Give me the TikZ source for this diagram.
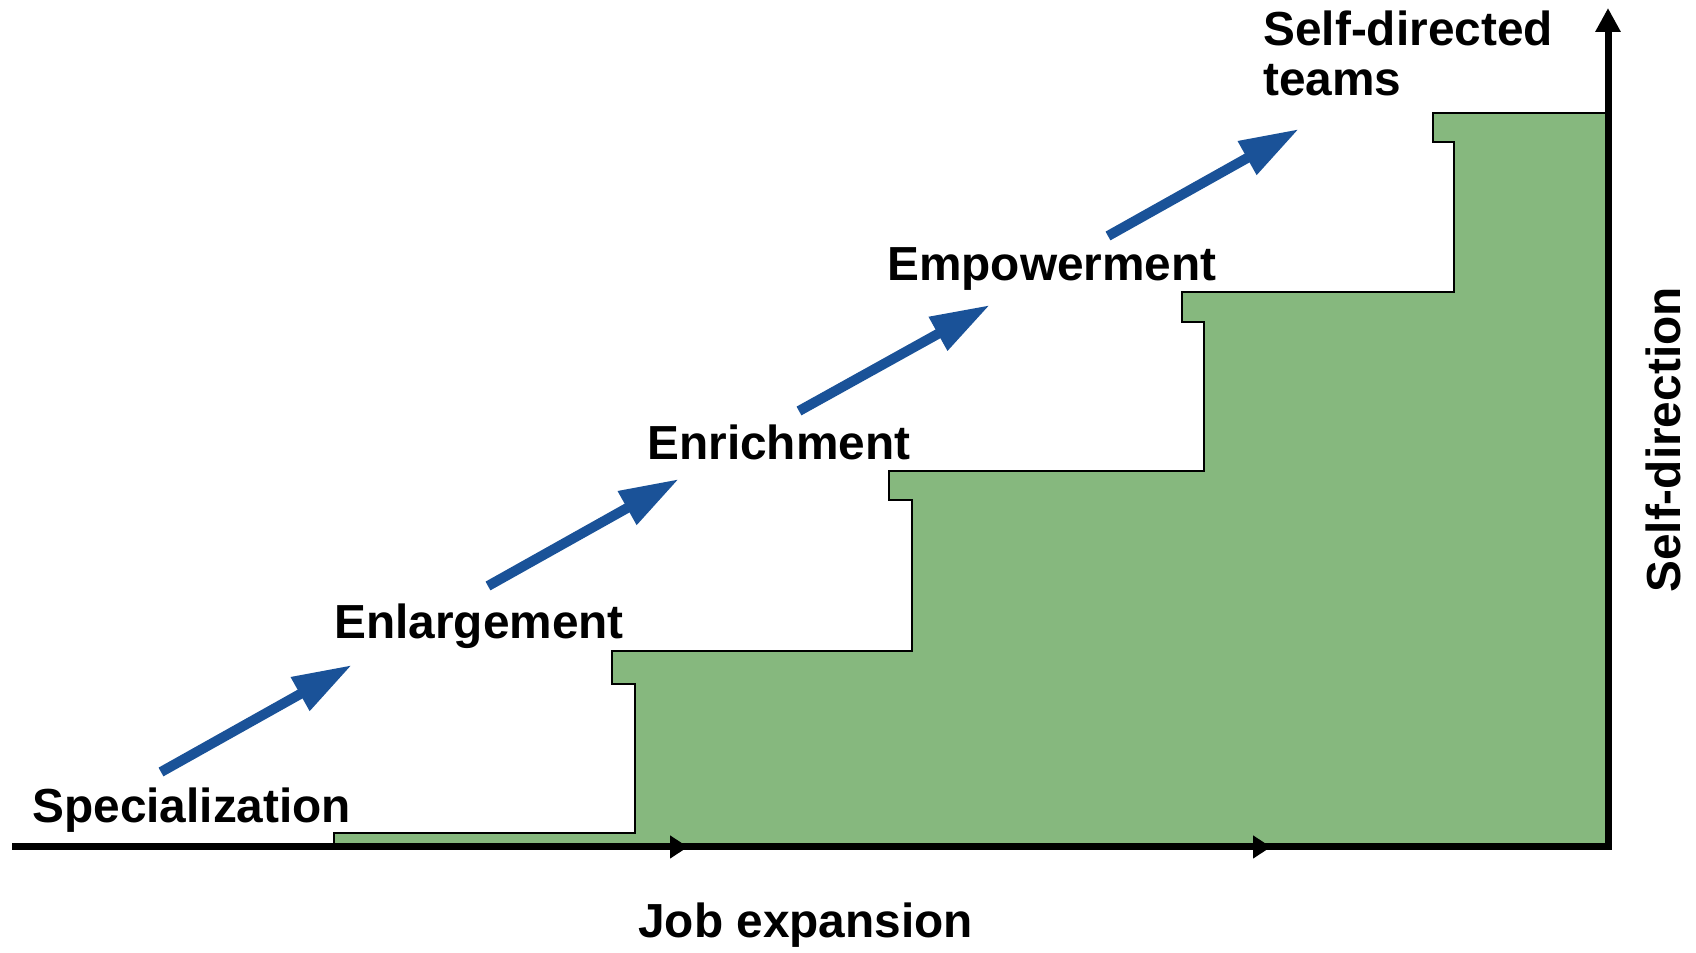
\documentclass[tikz,border=0pt]{standalone}
\usepackage{fontspec}
\setmainfont{Liberation Sans}
\usetikzlibrary{arrows.meta}
\definecolor{stepgreen}{HTML}{86B87E}
\definecolor{stageblue}{HTML}{1A5298}
\newcommand{\stagefont}{\fontsize{27.2pt}{28pt}\selectfont\bfseries}

\begin{document}
\begin{tikzpicture}[x=0.2mm,y=0.2mm,
  stage/.style={font=\stagefont, inner sep=0pt, anchor=base west},
  climb/.style={stageblue, line width=2mm, -{Triangle[length=11.9mm,width=7.2mm]}},
  axis/.style={line width=1.4mm}]
\useasboundingbox (0,0) rectangle (1696,953);

% staircase
\filldraw[fill=stepgreen, draw=black, line width=0.8pt]
  (334,106) -- (334,120) -- (635,120) -- (635,269) -- (612,269) -- (612,302)
  -- (912,302) -- (912,453) -- (889,453) -- (889,482)
  -- (1204,482) -- (1204,631) -- (1182,631) -- (1182,661)
  -- (1454,661) -- (1454,811) -- (1433,811) -- (1433,840)
  -- (1608,840) -- (1608,106) -- cycle;

% axes
\draw[axis, -{Triangle[length=4.8mm,width=4.8mm]}] (12,106) -- (1608,106) -- (1608,945);
\draw[axis, -{Triangle[length=3.6mm,width=4.4mm]}] (613,106) -- (688,106);
\draw[axis, -{Triangle[length=3.6mm,width=4.4mm]}] (1197,106) -- (1271,106);

% stages
\node[stage] (spec) at (32,130) {Specialization};
\node[stage] (enlarge) at (334,314) {Enlargement};
\node[stage] (enrich) at (647,493) {Enrichment};
\node[stage] (empower) at (887,672) {Empowerment};
\node[stage, anchor=north west, align=left] (teams) at (1263,942) {Self-directed\\teams};

\draw[climb] (161,181) -- (352,288);
\draw[climb] (488,367) -- (679,474);
\draw[climb] (799,542) -- (990,648);
\draw[climb] (1108,717) -- (1299,824);

% axis labels
\node[stage] (xlabel) at (638,15) {Job expansion};
\node[stage, anchor=base, rotate=90] (ylabel) at (1680,513) {Self-direction};
\end{tikzpicture}
\end{document}
